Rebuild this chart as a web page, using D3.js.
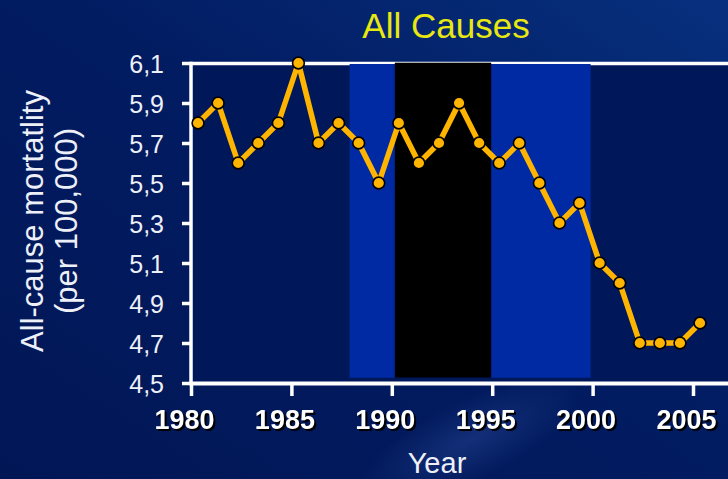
<!DOCTYPE html>
<html>
<head>
<meta charset="utf-8">
<script src="https://cdn.jsdelivr.net/npm/d3@7"></script>
<style>
  html, body { margin: 0; padding: 0; background: #021a5a; }
  svg { display: block; font-family: Arial, "Liberation Sans", sans-serif; }
</style>
</head>
<body>
<svg id="chart" width="728" height="479"></svg>
<script>
// ---- data ----
const years = [1980,1981,1982,1983,1984,1985,1986,1987,1988,1989,1990,1991,1992,1993,1994,1995,1996,1997,1998,1999,2000,2001,2002,2003,2004,2005];
const mortality = [5.8,5.9,5.6,5.7,5.8,6.1,5.7,5.8,5.7,5.5,5.8,5.6,5.7,5.9,5.7,5.6,5.7,5.5,5.3,5.4,5.1,5.0,4.7,4.7,4.7,4.8];
const yTickValues = [4.5,4.7,4.9,5.1,5.3,5.5,5.7,5.9,6.1];
const xTickValues = [1980,1985,1990,1995,2000,2005];
const bandStart = [1987.9, 1990.15];
const bandEnd = [1999.9, 1994.95];
const bandKind = ["blue", "black"];
const titleText = "All Causes";
const xTitle = "Year";
const yTitleLines = ["All-cause mortatlity", "(per 100,000)"];

(function () {
// ---- layout ----
const svg = d3.select("#chart");
const W = 728, H = 479;
const pl = 191, pr = 728, pt = 63, pb = 383;
const pointShift = 0.35; // points sit slightly right of the tick years

const x = d3.scaleLinear().domain([1980, 2005]).range([pl, 693]);
const y = d3.scaleLinear().domain([4.5, 6.1]).range([pb, pt]);
const fmt = d => d3.format(".1f")(d).replace(".", ",");

// background
const defs = svg.append("defs");
const g1 = defs.append("linearGradient").attr("id", "bg").attr("x1", "0").attr("y1", "1").attr("x2", "1").attr("y2", "0");
g1.append("stop").attr("offset", "0").attr("stop-color", "#011655");
g1.append("stop").attr("offset", "0.55").attr("stop-color", "#021c62");
g1.append("stop").attr("offset", "1").attr("stop-color", "#07307e");
svg.append("rect").attr("width", W).attr("height", H).attr("fill", "url(#bg)");
const g2 = defs.append("radialGradient").attr("id", "streak").attr("cx", "0.5").attr("cy", "0.5").attr("r", "0.5");
g2.append("stop").attr("offset", "0").attr("stop-color", "#2a4a98").attr("stop-opacity", 0.45);
g2.append("stop").attr("offset", "1").attr("stop-color", "#2a4a98").attr("stop-opacity", 0);
svg.append("ellipse").attr("cx", 470).attr("cy", 440).attr("rx", 120).attr("ry", 40)
  .attr("transform", "rotate(-25 470 440)").attr("fill", "url(#streak)");

// plot area background
svg.append("rect").attr("x", pl).attr("y", pt).attr("width", pr - pl).attr("height", pb - pt)
  .attr("fill", "#00185a");

// top frame line
svg.append("line").attr("x1", pl).attr("x2", pr).attr("y1", pt + 0.5).attr("y2", pt + 0.5)
  .attr("stroke", "#ffffff").attr("stroke-width", 3.6);

// bands
svg.append("g").selectAll("rect").data(bandKind).join("rect")
  .attr("x", (d, i) => x(bandStart[i]))
  .attr("width", (d, i) => x(bandEnd[i]) - x(bandStart[i]))
  .attr("y", d => d === "black" ? pt - 0.3 : pt + 1)
  .attr("height", d => (pb - 5.3) - (d === "black" ? pt - 0.3 : pt + 1))
  .attr("fill", d => d === "black" ? "#000000" : "#002aa3");

// axes
const yAxis = svg.append("g").attr("transform", `translate(${pl},0)`)
  .call(d3.axisLeft(y).tickValues(yTickValues).tickFormat(fmt).tickSize(9).tickPadding(18));
yAxis.select(".domain").remove();
yAxis.selectAll(".tick line").attr("stroke", "#ffffff").attr("stroke-width", 3.5);
yAxis.selectAll(".tick text").attr("fill", "#eef0f8").attr("font-size", 25)
  .attr("font-family", "Arial, 'Liberation Sans', sans-serif").attr("dy", "0.36em");
svg.append("line").attr("x1", pl).attr("x2", pl).attr("y1", pt - 1.3).attr("y2", pb + 2)
  .attr("stroke", "#ffffff").attr("stroke-width", 3.5);

const xAxis = svg.append("g").attr("transform", `translate(0,${pb})`)
  .call(d3.axisBottom(x).tickValues(xTickValues).tickFormat(d3.format("d")).tickSize(13).tickPadding(14));
xAxis.select(".domain").remove();
xAxis.selectAll(".tick line").attr("stroke", "#ffffff").attr("stroke-width", 3.5);
xAxis.selectAll(".tick text").attr("fill", "#ffffff").attr("font-size", 27).attr("font-weight", "bold")
  .attr("font-family", "Arial, 'Liberation Sans', sans-serif")
  .attr("dx", -7)
  .style("filter", "drop-shadow(2px 2px 0.6px #000)");
svg.append("line").attr("x1", pl - 1.7).attr("x2", pr).attr("y1", pb + 0.5).attr("y2", pb + 0.5)
  .attr("stroke", "#ffffff").attr("stroke-width", 4);

// line + points
const pts = years.map((yr, i) => ({ yr, v: mortality[i] }));
const line = d3.line().x(d => x(d.yr + pointShift)).y(d => y(d.v));
svg.append("path").datum(pts).attr("d", line).attr("fill", "none")
  .attr("stroke", "#ffb400").attr("stroke-width", 5.5).attr("stroke-linejoin", "round");
svg.append("g").selectAll("circle").data(pts).join("circle")
  .attr("cx", d => x(d.yr + pointShift)).attr("cy", d => y(d.v)).attr("r", 5.9)
  .attr("fill", "#ffb400").attr("stroke", "#000000").attr("stroke-width", 1.6);

// titles
svg.append("text").attr("x", 446).attr("y", 37.5).attr("text-anchor", "middle")
  .attr("font-size", 35).attr("fill", "#e8e810").text(titleText);
svg.append("text").attr("x", 437).attr("y", 473).attr("text-anchor", "middle")
  .attr("font-size", 29).attr("fill", "#eef0f8").text(xTitle);
const yt = svg.append("text").attr("transform", "translate(43,221) rotate(-90)")
  .attr("text-anchor", "middle").attr("font-size", 31).attr("fill", "#eef0f8");
yt.selectAll("tspan").data(yTitleLines).join("tspan")
  .attr("x", 0).attr("y", (d, i) => i * 33.5).text(d => d);
})();
</script>
</body>
</html>
